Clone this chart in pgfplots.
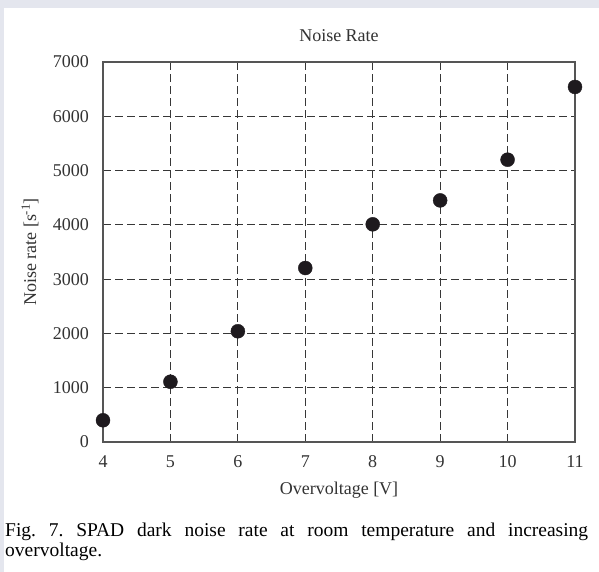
\documentclass[border=0pt]{standalone}
\usepackage{pgfplots}
\pgfplotsset{compat=1.18}
\usepackage{fontspec}
\setmainfont{Liberation Serif}
\definecolor{bgray}{RGB}{228,230,238}
\definecolor{gridc}{RGB}{55,55,55}
\definecolor{axc}{RGB}{85,85,85}
\definecolor{markc}{RGB}{30,26,30}
\begin{document}
\frenchspacing
\begin{tikzpicture}[x=1bp,y=1bp]
\useasboundingbox (0,0) rectangle (599,572);
\fill[white] (0,0) rectangle (599,572);
\fill[bgray] (0,564) rectangle (599,572);
\fill[bgray] (0,0) rectangle (4,572);
\begin{axis}[
  at={(103bp,130bp)}, anchor=south west,
  scale only axis, width=472bp, height=380bp,
  xmin=4, xmax=11, ymin=0, ymax=7000,
  xtick={4,5,6,7,8,9,10,11},
  ytick={0,1000,2000,3000,4000,5000,6000,7000},
  major tick length=0pt,
  clip=false,
  axis line style={draw=axc, line width=1.2bp},
  grid=major,
  major grid style={draw=gridc, line width=1.1bp, dash pattern=on 7.5bp off 4.5bp},
  font=\fontsize{18bp}{20bp}\selectfont,
  /pgf/number format/assume math mode=true,
  /pgf/number format/1000 sep={},
  xticklabel style={anchor=base, inner sep=0pt, yshift=-26bp, font=\fontsize{18bp}{20bp}\selectfont, text=black!80},
  yticklabel style={anchor=east, inner sep=0pt, xshift=-14bp, font=\fontsize{18bp}{20bp}\selectfont, text=black!80},
  title={Noise Rate},
  title style={at={(axis description cs:0.5,1.0526)}, anchor=center, inner sep=0pt, font=\fontsize{18bp}{20bp}\selectfont, text=black!80},
  xlabel={Overvoltage [V]},
  xlabel style={at={(axis description cs:0.5,-0.1263)}, anchor=center, inner sep=0pt, font=\fontsize{18bp}{20bp}\selectfont, text=black!80},
  ylabel={Noise rate [s\textsuperscript{-1}]},
  ylabel style={at={(axis description cs:-0.1547,0.5)}, anchor=center, inner sep=0pt, font=\fontsize{18bp}{20bp}\selectfont, text=black!80},
]
\addplot[only marks, mark=*, mark size=7bp, mark options={fill=markc, draw=markc}]
coordinates {
(4,400) (5,1110) (6,2040) (7,3205) (8,4010) (9,4450) (10,5200) (11,6540)
};
\end{axis}
\node[anchor=north west, inner sep=0pt, text width=583bp, align=justify,
  font=\fontsize{19.5bp}{20bp}\selectfont] at (5,49.5)
  {\frenchspacing Fig. 7. SPAD dark noise rate at room temperature and increasing\linebreak overvoltage.};
\end{tikzpicture}
\end{document}
